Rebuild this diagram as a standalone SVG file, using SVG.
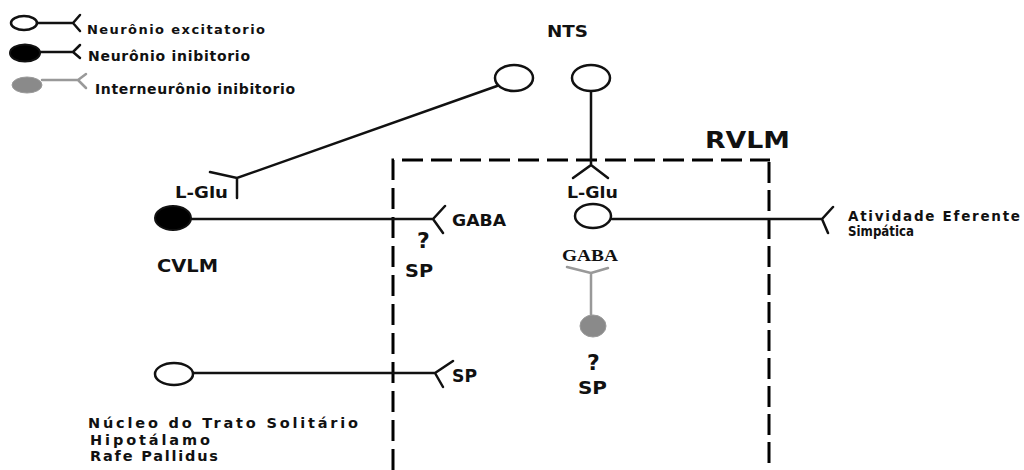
<svg xmlns="http://www.w3.org/2000/svg" width="1024" height="470" viewBox="0 0 1024 470">
<style>
.ax{stroke:#111;stroke-width:2.5;fill:none;stroke-linecap:round}
.axg{stroke:#999;stroke-width:2.5;fill:none;stroke-linecap:round}
.nb{fill:#fff;stroke:#111;stroke-width:2.5}
.nf{fill:#000;stroke:#111;stroke-width:2}
.ng{fill:#8a8a8a;stroke:#9a9a9a;stroke-width:1}
.box{stroke:#000;stroke-width:3;fill:none}
.t{font-family:"DejaVu Sans","Liberation Sans",Arial,sans-serif;font-weight:bold;fill:#111}
.ts{font-family:"Liberation Serif","Times New Roman",serif;font-weight:bold;fill:#111}
</style>
<rect width="1024" height="470" fill="#fff"/>
<g id="legend">
  <ellipse class="nb" cx="24" cy="23" rx="13" ry="7" stroke-width="1.5"/>
  <path class="ax" d="M37 23H73L80 15M73 23L80 31" stroke-width="2"/>
  <text class="t" x="87" y="34" font-size="13" textLength="178" lengthAdjust="spacing">Neurônio excitatorio</text>
  <ellipse class="nf" cx="25" cy="53" rx="15" ry="8.5"/>
  <path class="ax" d="M40 52H73L80 45M73 52L80 58" stroke-width="2"/>
  <text class="t" x="88" y="61" font-size="14" font-weight="600" textLength="162" lengthAdjust="spacing">Neurônio inibitorio</text>
  <ellipse class="ng" cx="27" cy="85" rx="15" ry="8"/>
  <path class="axg" d="M42 80H78L86 74M78 80L86 88" stroke-width="2"/>
  <text class="t" x="95" y="94" font-size="14" font-weight="600" textLength="200" lengthAdjust="spacing">Interneurônio inibitorio</text>
</g>
<g id="rvlm-box">
  <path class="box" d="M393 470V160H770" stroke-dasharray="21 8"/>
  <path class="box" d="M769 162V470" stroke-dasharray="21 7"/>
  <text class="t" x="705" y="148" font-size="23" textLength="85" lengthAdjust="spacingAndGlyphs">RVLM</text>
</g>
<g id="connectors">
  <path class="ax" d="M497 86L237 178L210 172M237 178V198"/>
  <path class="ax" d="M591 91V165L573 178M591 165L608 178"/>
  <path class="ax" d="M192 219H433L445 206M433 219L443 233"/>
  <path class="ax" d="M612 219H822L833 207M822 219L828 233"/>
  <path class="ax" d="M193 373H435L453 361M435 373L443 387"/>
  <path class="axg" d="M591 315V273L567 267M591 273L608 268"/>
</g>
<g id="nts1"><ellipse class="nb" cx="514" cy="78" rx="19" ry="13"/></g>
<g id="nts2"><ellipse class="nb" cx="591" cy="78" rx="19" ry="13"/>
  <text class="t" x="547" y="37" font-size="15" textLength="41" lengthAdjust="spacingAndGlyphs">NTS</text></g>
<g id="cvlm">
  <ellipse class="nf" cx="173" cy="218" rx="18" ry="12"/>
  <text class="t" x="175" y="198" font-size="15" textLength="53" lengthAdjust="spacingAndGlyphs">L-Glu</text>
  <text class="t" x="157" y="272" font-size="18" textLength="61" lengthAdjust="spacingAndGlyphs">CVLM</text>
  <text class="t" x="452" y="226" font-size="16" textLength="54" lengthAdjust="spacingAndGlyphs">GABA</text>
  <text class="t" x="417" y="248" font-size="22">?</text>
  <text class="t" x="405" y="277" font-size="17" textLength="28" lengthAdjust="spacingAndGlyphs">SP</text>
</g>
<g id="rvlm-neuron">
  <ellipse class="nb" cx="593" cy="216" rx="18" ry="12"/>
  <text class="t" x="567" y="198" font-size="15" textLength="51" lengthAdjust="spacingAndGlyphs">L-Glu</text>
  <text class="ts" x="562" y="261" font-size="17" textLength="56" lengthAdjust="spacingAndGlyphs">GABA</text>
  <text class="t" x="848" y="221" font-size="13.5" textLength="172" lengthAdjust="spacing">Atividade Eferente</text>
  <text class="t" x="848" y="236" font-size="13.5" textLength="66" lengthAdjust="spacingAndGlyphs">Simpática</text>
</g>
<g id="interneuron">
  <ellipse class="ng" cx="593" cy="326" rx="13" ry="11"/>
  <text class="t" x="587" y="370" font-size="22">?</text>
  <text class="t" x="578" y="394" font-size="17" textLength="29" lengthAdjust="spacingAndGlyphs">SP</text>
</g>
<g id="lower-neuron">
  <ellipse class="nb" cx="174" cy="374" rx="19" ry="11"/>
  <text class="t" x="452" y="382" font-size="17" textLength="25" lengthAdjust="spacingAndGlyphs">SP</text>
  <text class="t" x="88" y="428" font-size="14.5" textLength="270" lengthAdjust="spacing">Núcleo do Trato Solitário</text>
  <text class="t" x="90" y="444.5" font-size="14.5" textLength="120" lengthAdjust="spacing">Hipotálamo</text>
  <text class="t" x="90" y="461" font-size="14.5" textLength="128" lengthAdjust="spacing">Rafe Pallidus</text>
</g>
</svg>
